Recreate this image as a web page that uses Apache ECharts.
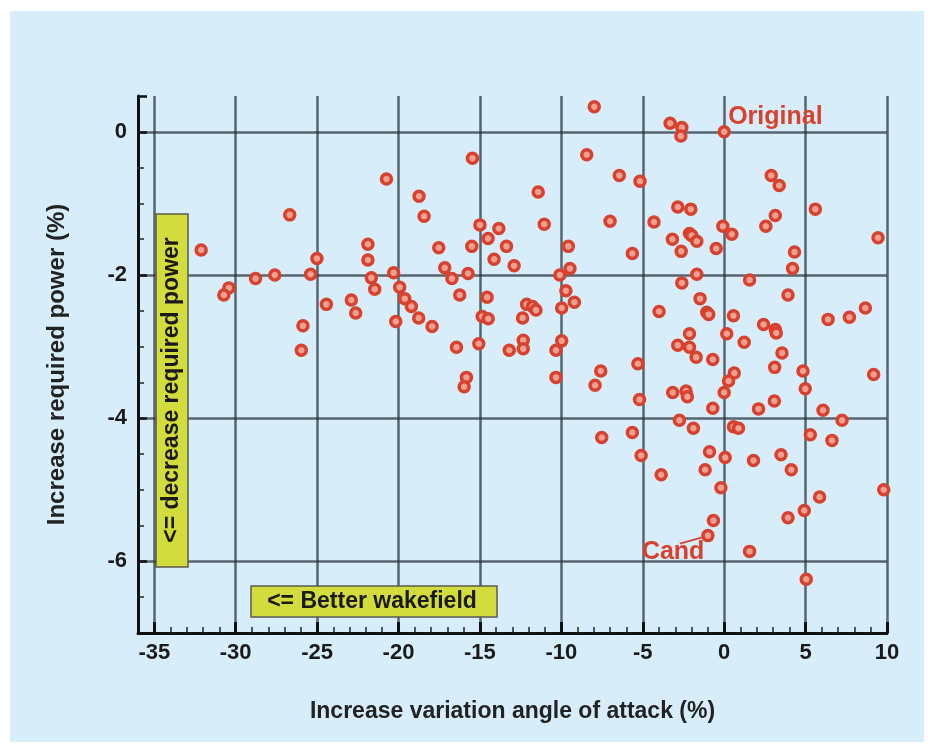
<!DOCTYPE html>
<html>
<head>
<meta charset="UTF-8">
<title>angle of attack vs required power</title>
<style>
  body { margin: 0; background: #ffffff; }
  #panel { position: absolute; left: 10px; top: 11px; width: 914px; height: 731px; background: #d7eefa; }
  #chart { position: absolute; left: 0; top: 0; width: 934px; height: 752px; }
</style>
<script src="https://cdn.jsdelivr.net/npm/echarts@6/dist/echarts.min.js"></script>
</head>
<body>
<div id="panel"></div>
<div id="chart"></div>
<script>
// candidate designs: change in angle-of-attack variation (%) vs change in required power (%)
var angleVar = [
  -20.74, -26.68, -32.12, -21.88, -21.88, -25.01, -28.78, -27.6, -25.4, -21.67,
  -30.42, -30.73, -21.46, -24.43, -22.9, -22.63, -25.87, -25.97,
  -7.98, -15.46, -8.44, -6.44, -5.17, -18.74, -18.43, -11.42, -11.05, -15.0,
  -13.84, -14.5, -13.37, -15.5, -17.53, -14.13, -12.9, -17.16, -9.57, -9.47,
  -7.01, -5.64, -20.3, -15.73, -16.72, -10.09,
  -19.93, -16.24, -14.56, -19.62, -19.21, -9.72, -9.2, -9.98, -12.13, -11.77,
  -11.56, -12.38, -14.86, -14.49, -20.17, -18.76, -17.94, -16.44, -15.07, -13.2,
  -12.34, -12.34, -9.98, -10.33, -15.83, -15.97, -10.33, -7.58, -7.93, -5.3,
  -5.2, -7.52, -5.64, -5.1,
  -3.32, -2.6, -2.66, 0.0, 2.89, 3.38, 5.6, 9.45, -2.85, -2.05,
  -4.31, 3.14, 2.56, -0.08, 0.47, -3.18, -2.13, -1.99, -1.68, -2.64,
  -0.49, 4.32, 4.2, -1.68,
  1.56, -2.6, 3.92, -1.48, -4.0, -1.07, -0.95, 0.57, 2.42, 3.14,
  3.2, 6.38, 7.69, 8.67, -2.13, 0.16, 1.23, -2.85, -2.13, -1.72,
  -0.7, 3.55, 3.1, 0.62, 0.27, 0.0, 4.84, 4.98, 9.18, -3.16,
  -2.34, -2.26, -0.7, 2.11, 3.08, 6.07, 7.24, -2.75, -1.89, 0.57,
  0.88, 5.29, 6.62, -0.9, 0.06, 1.8, 3.49,
  -3.87, -1.17, 4.12, -0.2, 9.8, 5.86, -0.66, 3.92, 4.92, -1.0,
  1.56, 5.04
];
var powerChange = [
  -0.66, -1.16, -1.65, -1.57, -1.79, -1.77, -2.05, -2.0, -1.99, -2.04,
  -2.18, -2.28, -2.2, -2.41, -2.35, -2.53, -2.71, -3.05,
  0.35, -0.37, -0.32, -0.61, -0.69, -0.9, -1.18, -0.84, -1.29, -1.3,
  -1.35, -1.49, -1.6, -1.6, -1.62, -1.78, -1.87, -1.9, -1.6, -1.91,
  -1.25, -1.7, -1.97, -1.98, -2.05, -2.0,
  -2.17, -2.28, -2.31, -2.33, -2.44, -2.22, -2.38, -2.46, -2.41, -2.44,
  -2.49, -2.6, -2.58, -2.61, -2.65, -2.6, -2.72, -3.01, -2.96, -3.05,
  -2.91, -3.03, -2.92, -3.05, -3.43, -3.56, -3.43, -3.34, -3.54, -3.24,
  -3.74, -4.27, -4.2, -4.52,
  0.12, 0.06, -0.06, 0.0, -0.61, -0.75, -1.08, -1.48, -1.05, -1.08,
  -1.26, -1.17, -1.32, -1.32, -1.43, -1.5, -1.42, -1.45, -1.53, -1.67,
  -1.63, -1.68, -1.91, -1.99,
  -2.07, -2.11, -2.28, -2.33, -2.51, -2.52, -2.55, -2.57, -2.69, -2.76,
  -2.81, -2.62, -2.59, -2.46, -2.82, -2.82, -2.94, -2.98, -3.01, -3.15,
  -3.18, -3.09, -3.29, -3.37, -3.48, -3.64, -3.34, -3.59, -3.39, -3.64,
  -3.62, -3.7, -3.86, -3.87, -3.76, -3.89, -4.03, -4.03, -4.14, -4.12,
  -4.14, -4.23, -4.31, -4.47, -4.55, -4.59, -4.51,
  -4.79, -4.72, -4.72, -4.97, -5.0, -5.1, -5.43, -5.39, -5.29, -5.64,
  -5.86, -6.25
];
var originalPoint = [0, 0];
var candPoint = [-1.0, -5.64];

var points = angleVar.map(function (x, i) { return [x, powerChange[i]]; });

var red = '#d7412e';
var yellow = '#d3dc3d';
var gridColor = 'rgba(38,48,58,0.72)';

var chart = echarts.init(document.getElementById('chart'));
var option = {
  backgroundColor: 'transparent',
  animation: false,
  grid: { left: 138, right: 47, top: 96, bottom: 119 },
  xAxis: {
    type: 'value',
    min: -36,
    max: 10,
    splitNumber: 9,
    name: 'Increase variation angle of attack (%)',
    nameLocation: 'middle',
    nameGap: 67,
    nameTextStyle: { fontFamily: 'Liberation Sans', fontWeight: 'bold', fontSize: 23, color: '#222' },
    axisLine: { show: true, onZero: false, lineStyle: { color: '#111', width: 3 } },
    axisTick: { inside: true, length: 11, lineStyle: { color: '#111', width: 3 } },
    minorTick: { show: true, splitNumber: 5, length: 6, lineStyle: { color: '#222', width: 1.5 } },
    axisLabel: { showMinLabel: false, margin: 9, fontFamily: 'Liberation Sans', fontWeight: 'bold', fontSize: 22, color: '#1a1a1a' },
    splitLine: { show: true, showMinLine: false, lineStyle: { color: gridColor, width: 2.5 } }
  },
  yAxis: {
    type: 'value',
    min: -7,
    max: 0.5,
    splitNumber: 4,
    name: 'Increase required power (%)',
    nameLocation: 'middle',
    nameRotate: 90,
    nameGap: 69,
    nameTextStyle: { fontFamily: 'Liberation Sans', fontWeight: 'bold', fontSize: 24, color: '#222' },
    axisLine: { show: true, onZero: false, lineStyle: { color: '#111', width: 3 } },
    axisTick: { inside: true, length: 9, lineStyle: { color: '#111', width: 2.5 } },
    minorTick: { show: true, splitNumber: 4, length: 6, lineStyle: { color: '#222', width: 1.5 } },
    axisLabel: { showMinLabel: false, showMaxLabel: false, margin: 11, fontFamily: 'Liberation Sans', fontWeight: 'bold', fontSize: 22, color: '#1a1a1a' },
    splitLine: { show: true, showMinLine: false, showMaxLine: false, lineStyle: { color: gridColor, width: 2.5 } }
  },
  series: [
    {
      type: 'scatter',
      data: points,
      symbol: 'circle',
      symbolSize: 10,
      itemStyle: { color: '#eea090', borderColor: red, borderWidth: 3.5, opacity: 1 },
      z: 3
    }
  ]
};
chart.setOption(option);

// annotations anchored to data positions
var o = chart.convertToPixel({ gridIndex: 0 }, originalPoint);
var c = chart.convertToPixel({ gridIndex: 0 }, candPoint);
chart.setOption({
  graphic: [
    {
      type: 'rect', z: 100,
      shape: { x: 156, y: 214, width: 32, height: 353 },
      style: { fill: yellow, stroke: '#5a5a50', lineWidth: 1.5 }
    },
    {
      type: 'text', z: 101,
      x: 172, y: 390, rotation: Math.PI / 2,
      style: { text: '<= decrease required power', fontFamily: 'Liberation Sans', fontWeight: 'bold', fontSize: 23, fill: '#1a1a1a', align: 'center', verticalAlign: 'middle' }
    },
    {
      type: 'rect', z: 100,
      shape: { x: 251, y: 586, width: 246, height: 31 },
      style: { fill: yellow, stroke: '#5a5a50', lineWidth: 1.5 }
    },
    {
      type: 'text', z: 101,
      x: 372, y: 602,
      style: { text: '<= Better wakefield', fontFamily: 'Liberation Sans', fontWeight: 'bold', fontSize: 23, fill: '#1a1a1a', align: 'center', verticalAlign: 'middle' }
    },
    {
      type: 'text', z: 101,
      x: o[0] + 4, y: o[1] - 2,
      style: { text: 'Original', fontFamily: 'Liberation Sans', fontWeight: 'bold', fontSize: 25, fill: red, align: 'left', verticalAlign: 'bottom' }
    },
    {
      type: 'line', z: 101,
      shape: { x1: c[0] - 3, y1: c[1] + 1, x2: c[0] - 28, y2: c[1] + 8 },
      style: { stroke: red, lineWidth: 2 }
    },
    {
      type: 'text', z: 101,
      x: c[0] - 66, y: c[1] + 29,
      style: { text: 'Cand', fontFamily: 'Liberation Sans', fontWeight: 'bold', fontSize: 25, fill: red, align: 'left', verticalAlign: 'bottom' }
    }
  ]
});
</script>
</body>
</html>
